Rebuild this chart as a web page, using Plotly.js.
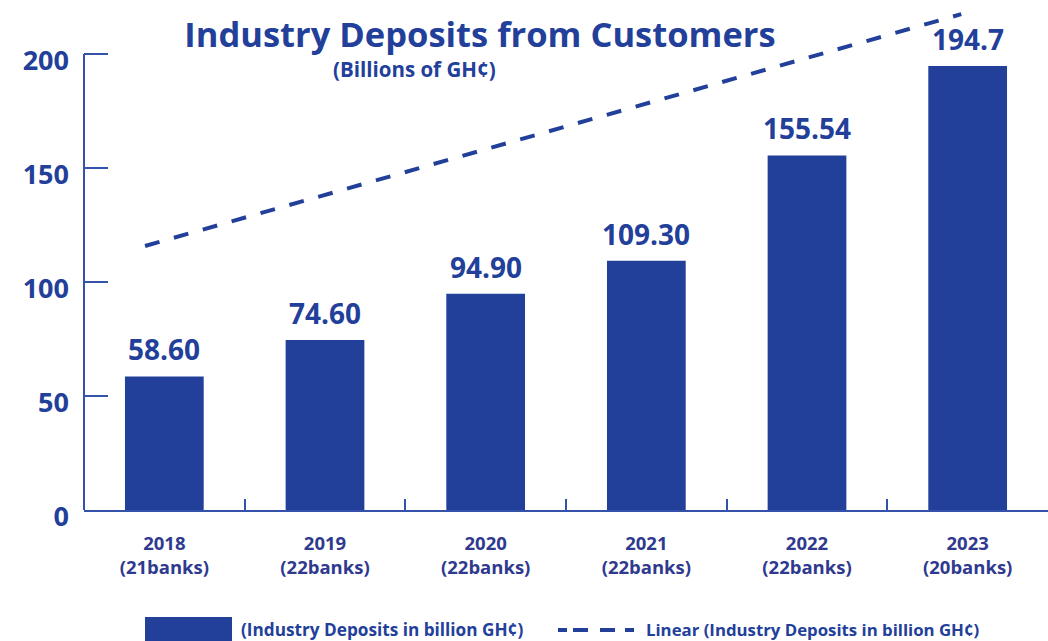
<!DOCTYPE html>
<html>
<head>
<meta charset="utf-8">
<script src="https://cdn.plot.ly/plotly-3.0.1.min.js"></script>
<style>
html,body{margin:0;padding:0;background:#fff;}
#chart{width:1048px;height:641px;}
</style>
</head>
<body>
<div id="chart"></div>
<script>
// ---- data ----
const years = ["2018", "2019", "2020", "2021", "2022", "2023"];
const banks = ["(21banks)", "(22banks)", "(22banks)", "(22banks)", "(22banks)", "(20banks)"];
const deposits = [58.60, 74.60, 94.90, 109.30, 155.54, 194.7];
const depositLabels = ["58.60", "74.60", "94.90", "109.30", "155.54", "194.7"];
const trendX = [-0.12, 4.96];
const trendY = [115.8, 217.5];
const yTicks = [0, 50, 100, 150, 200];
const seriesName = "(Industry Deposits in billion GH¢)";
const trendName = "Linear (Industry Deposits in billion GH¢)";

// ---- derived ----
const idx = years.map((_, i) => i);
const tickText = years.map((y, i) => y + "<br>" + banks[i]);
const boundaries = idx.slice(1).map(i => i - 0.5);

const BLUE = "#22409A";
const AXIS = "#3452AA";
const FONT = "Open Sans, DejaVu Sans, sans-serif";

const bars = {
  type: "bar",
  x: idx,
  y: deposits,
  name: seriesName,
  width: 0.49,
  marker: {color: BLUE, line: {width: 0}},
  showlegend: false,
  hoverinfo: "skip"
};
const trend = {
  type: "scatter",
  mode: "lines",
  x: trendX,
  y: trendY,
  name: trendName,
  line: {color: BLUE, width: 4, dash: "15px,15px"},
  showlegend: false,
  hoverinfo: "skip"
};

const annotations = idx.map(i => ({
  x: i, y: deposits[i], xref: "x", yref: "y",
  text: "<b>" + depositLabels[i] + "</b>",
  showarrow: false, yanchor: "bottom", yshift: 6,
  font: {family: FONT, size: 28, color: BLUE}
}));
annotations.push({
  xref: "paper", yref: "paper", x: (331 - 84) / 964, y: 1 - 69 / 510,
  text: "<b>(Billions of GH¢)</b>", showarrow: false,
  xanchor: "left", yanchor: "middle",
  font: {family: FONT, size: 20.5, color: BLUE}
});
annotations.push({
  xref: "paper", yref: "paper", x: (239 - 84) / 964, y: -(629 - 510) / 510,
  text: "<b>" + seriesName + "</b>", showarrow: false,
  xanchor: "left", yanchor: "middle",
  font: {family: FONT, size: 17.2, color: BLUE}
});
annotations.push({
  xref: "paper", yref: "paper", x: (644 - 84) / 964, y: -(629 - 510) / 510,
  text: "<b>" + trendName + "</b>", showarrow: false,
  xanchor: "left", yanchor: "middle",
  font: {family: FONT, size: 16.8, color: BLUE}
});

const shapes = [
  // y-axis line from 0 to 200
  {type: "line", xref: "paper", yref: "y", x0: 0, x1: 0, y0: 0, y1: yTicks[yTicks.length - 1],
   line: {color: AXIS, width: 2}},
  // legend swatch for bars
  {type: "rect", xref: "paper", yref: "paper",
   x0: (145 - 84) / 964, x1: (232 - 84) / 964, y0: -(645 - 510) / 510, y1: -(617 - 510) / 510,
   fillcolor: BLUE, line: {width: 0}},
  // legend swatch for trend line
  {type: "line", xref: "paper", yref: "paper",
   x0: (558 - 84) / 964, x1: (634 - 84) / 964, y0: -(630 - 510) / 510, y1: -(630 - 510) / 510,
   line: {color: BLUE, width: 4, dash: "9px,6px,15px,12px,15px,10px,9px,0px"}}
];

const layout = {
  width: 1048, height: 641,
  margin: {l: 84, r: 0, t: 0, b: 131, pad: 0},
  paper_bgcolor: "#ffffff", plot_bgcolor: "#ffffff",
  showlegend: false,
  title: {
    text: "<b>Industry Deposits from Customers</b>",
    xref: "container", yref: "container",
    x: 480 / 1048, xanchor: "center",
    y: 1 - 35 / 641, yanchor: "middle",
    font: {family: FONT, size: 34.5, color: BLUE}
  },
  xaxis: {
    range: [-0.5, 5.5],
    tickmode: "array", tickvals: idx, ticktext: tickText,
    ticks: "", showgrid: false, zeroline: false,
    showline: true, linecolor: AXIS, linewidth: 2,
    tickfont: {family: FONT, size: 18.5, color: "#2F3A8F", weight: "bold"},
    ticklabelstandoff: 16,
    minor: {tickmode: "array", tickvals: boundaries, ticks: "inside", ticklen: 11,
            tickwidth: 2, tickcolor: AXIS, showgrid: false},
    fixedrange: true
  },
  yaxis: {
    range: [0, 223.7],
    tickmode: "array", tickvals: yTicks,
    ticks: "inside", ticklen: 24, tickwidth: 2, tickcolor: AXIS,
    showline: false, showgrid: false, zeroline: false,
    tickfont: {family: FONT, size: 27, color: BLUE, weight: "bold"},
    ticklabelstandoff: 14,
    ticklabelshift: 7,
    fixedrange: true
  },
  annotations: annotations,
  shapes: shapes,
  bargap: 0.5
};

Plotly.newPlot("chart", [bars, trend], layout, {displayModeBar: false, staticPlot: true});
</script>
</body>
</html>
